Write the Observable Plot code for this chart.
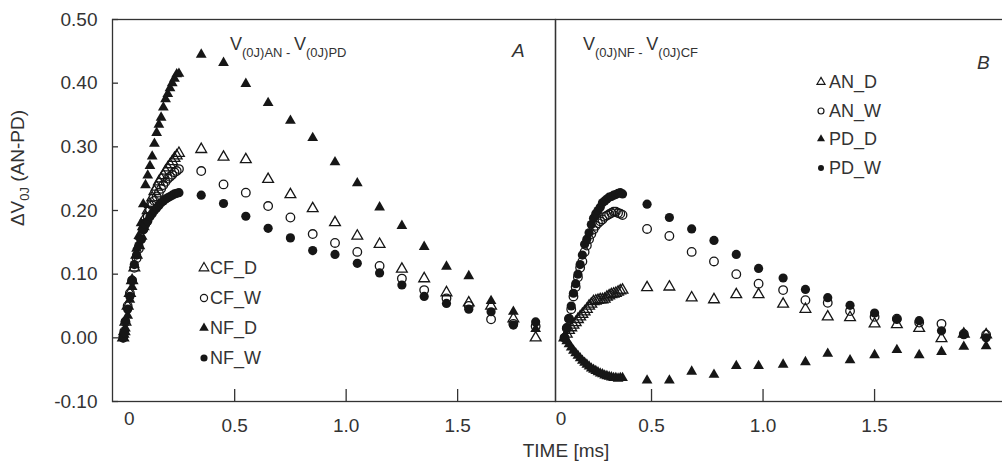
<!DOCTYPE html>
<html><head><meta charset="utf-8">
<script src="https://cdn.jsdelivr.net/npm/d3@7"></script>
<script src="https://cdn.jsdelivr.net/npm/@observablehq/plot@0.6"></script>
<style>
html,body{margin:0;padding:0;background:#fff;overflow:hidden;}
#wrap{position:relative;width:1002px;height:466px;font-family:"Liberation Sans",Arial,sans-serif;color:#333;}
#wrap svg.plot{position:absolute;top:0;}
.lbl{position:absolute;white-space:nowrap;line-height:18px;}
.sub{font-size:13px;position:relative;top:7px;}
</style></head>
<body><div id="wrap"></div>
<script>
// ---------- data ----------
const seriesA = ["CF_D", "CF_W", "NF_D", "NF_W"];
const seriesB = ["AN_D", "AN_W", "PD_D", "PD_W"];

// Panel A: V(0J)AN - V(0J)PD
const tA_early = [0, 0.005, 0.01, 0.02, 0.03, 0.04, 0.05, 0.06, 0.07, 0.08, 0.09, 0.10, 0.11, 0.12, 0.13, 0.14, 0.15, 0.16, 0.17, 0.18, 0.19, 0.20, 0.21, 0.22, 0.23, 0.24, 0.25];
const tA_late = [0.35, 0.45, 0.55, 0.65, 0.75, 0.85, 0.95, 1.05, 1.15, 1.25, 1.35, 1.45, 1.55, 1.65, 1.75, 1.85];
const A_CF_D_early = [0, 0.01, 0.025, 0.05, 0.07, 0.09, 0.11, 0.13, 0.145, 0.16, 0.175, 0.19, 0.20, 0.21, 0.22, 0.23, 0.237, 0.245, 0.25, 0.255, 0.262, 0.267, 0.272, 0.277, 0.282, 0.286, 0.29];
const A_CF_D_late = [0.296, 0.284, 0.28, 0.249, 0.225, 0.203, 0.181, 0.16, 0.147, 0.108, 0.093, 0.071, 0.055, 0.05, 0.03, 0.0];
const A_CF_W_early = [0, 0.01, 0.025, 0.05, 0.07, 0.09, 0.11, 0.125, 0.14, 0.155, 0.17, 0.18, 0.19, 0.20, 0.208, 0.215, 0.222, 0.228, 0.234, 0.24, 0.245, 0.25, 0.253, 0.256, 0.26, 0.262, 0.265];
const A_CF_W_late = [0.262, 0.241, 0.228, 0.207, 0.189, 0.163, 0.149, 0.135, 0.113, 0.093, 0.075, 0.062, 0.05, 0.029, 0.022, 0.018];
const A_NF_D_early = [0, 0.005, 0.015, 0.035, 0.06, 0.08, 0.115, 0.14, 0.16, 0.18, 0.21, 0.24, 0.255, 0.27, 0.285, 0.305, 0.322, 0.335, 0.346, 0.362, 0.375, 0.383, 0.392, 0.40, 0.407, 0.414, 0.415];
const A_NF_D_late = [0.445, 0.432, 0.399, 0.369, 0.341, 0.314, 0.276, 0.243, 0.205, 0.176, 0.143, 0.112, 0.097, 0.058, 0.041, 0.014];
const A_NF_W_early = [0, 0.008, 0.026, 0.045, 0.065, 0.09, 0.115, 0.13, 0.145, 0.155, 0.17, 0.178, 0.183, 0.19, 0.195, 0.20, 0.204, 0.208, 0.212, 0.215, 0.218, 0.22, 0.222, 0.224, 0.226, 0.227, 0.228];
const A_NF_W_late = [0.224, 0.211, 0.191, 0.172, 0.157, 0.137, 0.131, 0.117, 0.102, 0.083, 0.065, 0.054, 0.045, 0.041, 0.02, 0.025];

// Panel B: V(0J)NF - V(0J)CF
const tB_early = [0.11, 0.12, 0.13, 0.14, 0.15, 0.16, 0.17, 0.18, 0.19, 0.20, 0.21, 0.22, 0.23, 0.24, 0.25, 0.26, 0.27, 0.28, 0.29, 0.30, 0.31, 0.32, 0.33, 0.34, 0.35, 0.36, 0.37];
const tB_late = [0.48, 0.58, 0.68, 0.78, 0.88, 0.98, 1.09, 1.19, 1.29, 1.39, 1.50, 1.60, 1.70, 1.80, 1.90, 2.00];
const B_AN_D_early = [0, 0.006, 0.012, 0.016, 0.02, 0.024, 0.029, 0.033, 0.037, 0.041, 0.045, 0.05, 0.053, 0.057, 0.058, 0.059, 0.06, 0.06, 0.061, 0.064, 0.066, 0.068, 0.069, 0.07, 0.072, 0.074, 0.075];
const B_AN_D_late = [0.079, 0.08, 0.063, 0.06, 0.068, 0.068, 0.053, 0.045, 0.033, 0.032, 0.022, 0.021, 0.015, -0.001, 0.006, 0.005];
const B_AN_W_early = [0, 0.015, 0.03, 0.045, 0.065, 0.08, 0.095, 0.11, 0.12, 0.135, 0.145, 0.155, 0.163, 0.17, 0.176, 0.18, 0.183, 0.186, 0.19, 0.192, 0.194, 0.196, 0.198, 0.198, 0.196, 0.195, 0.193];
const B_AN_W_late = [0.171, 0.16, 0.135, 0.12, 0.1, 0.085, 0.075, 0.059, 0.055, 0.042, 0.033, 0.03, 0.024, 0.022, 0.006, 0.005];
const B_PD_D_early = [0, -0.005, -0.01, -0.015, -0.02, -0.024, -0.028, -0.032, -0.036, -0.039, -0.042, -0.045, -0.048, -0.05, -0.052, -0.054, -0.056, -0.057, -0.059, -0.06, -0.061, -0.062, -0.063, -0.063, -0.064, -0.063, -0.063];
const B_PD_D_late = [-0.067, -0.067, -0.053, -0.058, -0.044, -0.044, -0.042, -0.038, -0.025, -0.035, -0.027, -0.019, -0.027, -0.022, -0.014, -0.013];
const B_PD_W_early = [0, 0.016, 0.03, 0.05, 0.07, 0.085, 0.10, 0.115, 0.13, 0.147, 0.155, 0.165, 0.178, 0.188, 0.195, 0.20, 0.205, 0.212, 0.215, 0.218, 0.221, 0.222, 0.224, 0.225, 0.227, 0.228, 0.226];
const B_PD_W_late = [0.21, 0.189, 0.171, 0.153, 0.131, 0.109, 0.094, 0.076, 0.063, 0.051, 0.039, 0.029, 0.027, 0.011, 0.005, 0.0];

const yTicks = [-0.1, 0, 0.1, 0.2, 0.3, 0.4, 0.5];
const xTicks = [0.5, 1.0, 1.5];
const zeroLabel = ["0"];

// ---------- build tables ----------
function rows(name, t1, v1, t2, v2) {
  return t1.map((t, i) => ({series: name, t, v: v1[i]}))
    .concat(t2.map((t, i) => ({series: name, t, v: v2[i]})));
}
const dataA = [
  ...rows("CF_D", tA_early, A_CF_D_early, tA_late, A_CF_D_late),
  ...rows("CF_W", tA_early, A_CF_W_early, tA_late, A_CF_W_late),
  ...rows("NF_D", tA_early, A_NF_D_early, tA_late, A_NF_D_late),
  ...rows("NF_W", tA_early, A_NF_W_early, tA_late, A_NF_W_late)
];
const dataB = [
  ...rows("AN_D", tB_early, B_AN_D_early, tB_late, B_AN_D_late),
  ...rows("AN_W", tB_early, B_AN_W_early, tB_late, B_AN_W_late),
  ...rows("PD_D", tB_early, B_PD_D_early, tB_late, B_PD_D_late),
  ...rows("PD_W", tB_early, B_PD_W_early, tB_late, B_PD_W_late)
];

const INK = "#161616";
const styles = [
  {symbol: "triangle", fill: "none", stroke: INK, strokeWidth: 1.3, r: 4},
  {symbol: "circle", fill: "none", stroke: INK, strokeWidth: 1.3, r: 4.3},
  {symbol: "triangle", fill: INK, r: 4},
  {symbol: "circle", fill: INK, r: 4.6}
];

const H = 466, MT = 19, MB = 65;
const plotH = H - MT - MB;

function panel({data, names, width, marginLeft, xDomain, showY, zeroDx}) {
  const innerW = width - marginLeft;
  const marks = [];
  if (showY) {
    marks.push(Plot.axisY(yTicks, {tickSize: 0, tickPadding: 15, tickFormat: d => d.toFixed(2), label: null}));
    marks.push(Plot.tickY(yTicks, {y: d => d, insetRight: innerW - 6, stroke: "#333", strokeWidth: 1.3}));
  }
  marks.push(Plot.axisX(xTicks, {tickSize: 0, tickPadding: 17, tickFormat: d => d.toFixed(1), label: null}));
  marks.push(Plot.tickX(xTicks, {x: d => d, insetTop: plotH - 12, stroke: "#333", strokeWidth: 1.3}));
  marks.push(Plot.text(zeroLabel, {x: () => 0, text: d => d, frameAnchor: "bottom", dy: 23, dx: zeroDx, fill: "#333"}));
  names.forEach((n, i) => marks.push(Plot.dot(data.filter(d => d.series === n), {x: "t", y: "v", ...styles[i]})));
  marks.push(Plot.frame({stroke: "#333", strokeWidth: 1.3}));
  const svg = Plot.plot({
    width, height: H,
    marginLeft, marginRight: 0, marginTop: MT, marginBottom: MB,
    x: {domain: xDomain, label: null},
    y: {domain: [-0.1, 0.5], label: null, axis: showY ? undefined : null},
    style: {background: "transparent", overflow: "visible", fontFamily: "'Liberation Sans', Arial, sans-serif", fontSize: "19px", color: "#333"},
    marks
  });
  svg.classList.add("plot");
  return svg;
}

const wrap = document.getElementById("wrap");
const svgA = panel({data: dataA, names: seriesA, width: 555, marginLeft: 112, xDomain: [-0.048, 1.939], showY: true, zeroDx: 6});
svgA.style.left = "0px";
const svgB = panel({data: dataB, names: seriesB, width: 448, marginLeft: 0, xDomain: [0.0695, 2.078], showY: false, zeroDx: 21});
svgB.style.left = "555px";
wrap.appendChild(svgA);
wrap.appendChild(svgB);

// ---------- text overlays ----------
function addLabel(html, css) {
  const d = document.createElement("div");
  d.className = "lbl";
  d.innerHTML = html;
  Object.assign(d.style, css);
  wrap.appendChild(d);
  return d;
}
addLabel('ΔV<span class="sub" style="top:5px">0J</span> (AN-PD)', {left: "19px", top: "168px", fontSize: "19px", transform: "translate(-50%,-50%) rotate(-90deg)"});
addLabel('V<span class="sub">(0J)AN - </span>V<span class="sub">(0J)PD</span>', {left: "230px", top: "35px", fontSize: "18px"});
addLabel('V<span class="sub">(0J)NF - </span>V<span class="sub">(0J)CF</span>', {left: "583px", top: "35px", fontSize: "18px"});
addLabel('A', {left: "512px", top: "42px", fontSize: "19px", fontStyle: "italic"});
addLabel('B', {left: "977px", top: "54px", fontSize: "19px", fontStyle: "italic"});
addLabel('TIME [ms]', {left: "566px", top: "442px", fontSize: "19px", transform: "translateX(-50%)"});

// legends
function symbolPath(i, s) {
  const type = (i % 2 === 0) ? d3.symbolTriangle : d3.symbolCircle;
  return d3.symbol().type(type).size(s)();
}
function legend(names, cx, textX, y0, step, size, font) {
  names.forEach((n, i) => {
    const cy = y0 + i * step;
    const box = 14;
    const s = document.createElementNS("http://www.w3.org/2000/svg", "svg");
    s.setAttribute("width", box); s.setAttribute("height", box);
    s.style.position = "absolute"; s.style.left = (cx - box / 2) + "px"; s.style.top = (cy - box / 2) + "px"; s.style.overflow = "visible";
    const p = document.createElementNS("http://www.w3.org/2000/svg", "path");
    p.setAttribute("d", symbolPath(i, size));
    p.setAttribute("transform", `translate(${box / 2},${box / 2})`);
    const st = styles[i];
    p.setAttribute("fill", st.fill);
    if (st.stroke) { p.setAttribute("stroke", st.stroke); p.setAttribute("stroke-width", 1.2); }
    s.appendChild(p);
    wrap.appendChild(s);
    addLabel(n, {left: textX + "px", top: (cy - 9) + "px", fontSize: font});
  });
}
legend(seriesA, 204, 210, 268, 30, 40, "18px");
legend(seriesB, 821, 829, 82, 28.5, 28, "18px");
</script>
</body></html>
